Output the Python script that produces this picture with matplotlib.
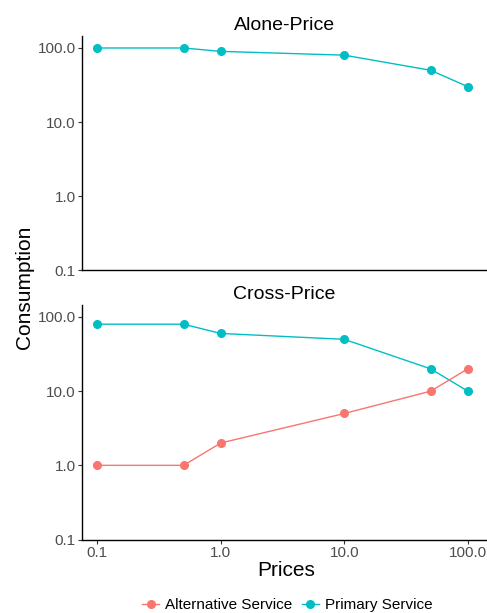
import matplotlib.pyplot as plt
from matplotlib.ticker import FixedLocator, FormatStrFormatter, NullLocator

plt.rcParams['font.family'] = ['Liberation Sans', 'DejaVu Sans']

# data
prices = [0.1, 0.5, 1, 10, 50, 100]
alone_primary = [100, 100, 90, 80, 50, 30]
cross_primary = [80, 80, 60, 50, 20, 10]
cross_alternative = [1, 1, 2, 5, 10, 20]

red = '#F8766D'
teal = '#00BFC4'
grey = '#4D4D4D'

fig = plt.figure(figsize=(4.87, 6.13), dpi=100)
ax_top = fig.add_axes([0.168, 0.5595, 0.832, 0.3817])
ax_bot = fig.add_axes([0.168, 0.1199, 0.832, 0.3825])

for ax, title in [(ax_top, 'Alone-Price'), (ax_bot, 'Cross-Price')]:
    ax.set_xscale('log')
    ax.set_yscale('log')
    ax.set_xlim(0.075, 143)
    ax.set_ylim(0.1, 145)
    ax.yaxis.set_major_locator(FixedLocator([0.1, 1, 10, 100]))
    ax.yaxis.set_major_formatter(FormatStrFormatter('%.1f'))
    ax.yaxis.set_minor_locator(NullLocator())
    ax.xaxis.set_minor_locator(NullLocator())
    for s in ['top', 'right']:
        ax.spines[s].set_visible(False)
    for s in ['left', 'bottom']:
        ax.spines[s].set_linewidth(1.0)
    ax.tick_params(axis='both', labelsize=11, labelcolor=grey, color='#333333',
                   length=3, width=0.8, pad=1.5)
    ax.set_title(title, fontsize=14, pad=4)

ax_top.xaxis.set_major_locator(NullLocator())
ax_bot.xaxis.set_major_locator(FixedLocator([0.1, 1, 10, 100]))
ax_bot.xaxis.set_major_formatter(FormatStrFormatter('%.1f'))

ax_top.plot(prices, alone_primary, color=teal, lw=1, marker='o', ms=5.5,
            clip_on=False, zorder=3)
ax_bot.plot(prices, cross_primary, color=teal, lw=1, marker='o', ms=5.5,
            clip_on=False, zorder=3, label='Primary Service')
ax_bot.plot(prices, cross_alternative, color=red, lw=1, marker='o', ms=5.5,
            clip_on=False, zorder=3, label='Alternative Service')

fig.text(0.05, 0.531, 'Consumption', rotation=90, ha='center', va='center', fontsize=15)
fig.text(0.587, 0.07, 'Prices', ha='center', va='center', fontsize=15)

handles, labels = ax_bot.get_legend_handles_labels()
fig.legend(handles[::-1], labels[::-1], loc='center', bbox_to_anchor=(0.59, 0.013),
           ncol=2, frameon=False, fontsize=11, handlelength=1.1,
           handletextpad=0.4, columnspacing=0.6, borderaxespad=0)

fig.savefig('out.png', dpi=100)
